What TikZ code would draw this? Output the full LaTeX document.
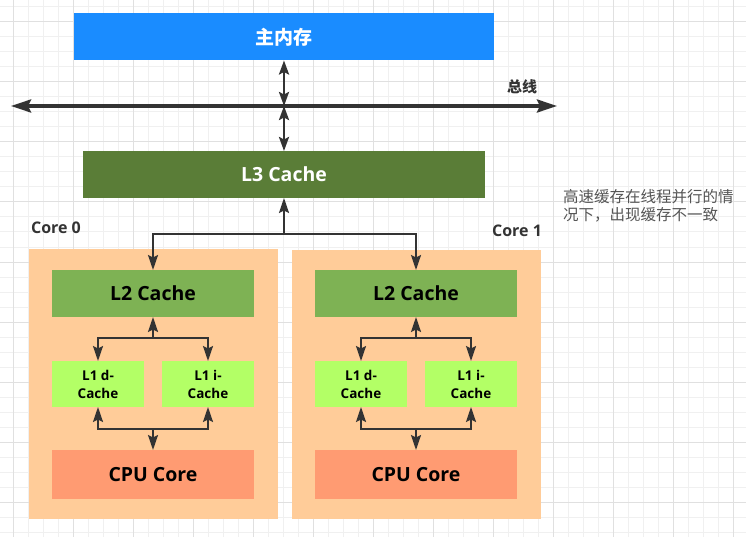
\documentclass[tikz,border=0pt]{standalone}
\usepackage{fontspec}
\setmainfont{Open Sans}
\newfontfamily\cjk{Noto Sans CJK SC}
\usetikzlibrary{arrows.meta,positioning}

\definecolor{memblue}{HTML}{1A8CFF}
\definecolor{lthree}{HTML}{5A7D37}
\definecolor{ltwo}{HTML}{7EB254}
\definecolor{lone}{HTML}{B3FF66}
\definecolor{cpucol}{HTML}{FF9B72}
\definecolor{corebg}{HTML}{FFCC99}
\definecolor{wire}{HTML}{333333}
\definecolor{notegray}{HTML}{555555}
\definecolor{gridfine}{HTML}{F0F0F0}
\definecolor{gridbold}{HTML}{E0E0E0}

\begin{document}
\begin{tikzpicture}[x=1pt,y=-1pt,
    blk/.style={inner sep=0pt,outer sep=0pt,font=\bfseries\fontsize{19.5}{22}\selectfont},
    l1blk/.style={blk,fill=lone,minimum width=92pt,minimum height=46pt,align=center,
        font=\bfseries\fontsize{13.5}{18}\selectfont},
    corelbl/.style={font=\bfseries\fontsize{16}{18}\selectfont,text=wire},
    link/.style={draw=wire,line width=2pt,-{Stealth[length=15pt,width=10pt,inset=2.5pt]}},
    twoway/.style={draw=wire,line width=2.5pt,
        {Stealth[length=14pt,width=10pt,inset=2.5pt]}-{Stealth[length=14pt,width=10pt,inset=2.5pt]}},
    busline/.style={draw=wire,line width=3.3pt,
        {Stealth[length=20pt,width=13pt,inset=3pt]}-{Stealth[length=20pt,width=13pt,inset=3pt]}}]
    \useasboundingbox (0,0) rectangle (746,537);
    \fill[white] (0,0) rectangle (746,537);
    % background grid
    \foreach \gx in {13,28,...,745} \draw[gridfine,line width=1pt] (\gx,0) -- (\gx,537);
    \foreach \gy in {7,22,...,536} \draw[gridfine,line width=1pt] (0,\gy) -- (746,\gy);
    \foreach \gx in {13,73,...,745} \draw[gridbold,line width=1pt] (\gx,0) -- (\gx,537);
    \foreach \gy in {22,82,...,536} \draw[gridbold,line width=1pt] (0,\gy) -- (746,\gy);

    % memory, bus, L3
    \node [blk,fill=memblue,text=white,minimum width=420pt,minimum height=47pt] (mem) at (284,37)
        {\cjk\bfseries\fontsize{19}{22}\selectfont 主内存};
    \node [blk,fill=lthree,text=white,minimum width=402pt,minimum height=47pt] (l3) at (284,174.5) {L3 Cache};
    \coordinate (busL) at (11,106);
    \coordinate (busR) at (557,106);
    \coordinate (busC) at (284,106);
    \node [font=\cjk\bfseries\fontsize{15}{17}\selectfont,text=wire] (buslbl) at (522,87) {总线};
    \draw [busline] (busL) -- (busR);
    \draw [twoway] (mem.south) -- (busC);
    \draw [twoway] (busC) -- (l3.north);

    % core 0
    \node [blk,fill=corebg,minimum width=249pt,minimum height=270pt] (core0) at (153.5,384) {};
    \node [corelbl] (core0lbl) at (56,228) {Core 0};
    \node [blk,fill=ltwo,minimum width=202pt,minimum height=47pt] (l2a) at (153,293.5) {L2 Cache};
    \node [l1blk] (l1da) at (98,384) {L1 d-\\Cache};
    \node [l1blk] (l1ia) at (208,384) {L1 i-\\Cache};
    \node [blk,fill=cpucol,minimum width=202pt,minimum height=49pt] (cpua) at (153,474.5) {CPU Core};

    % core 1
    \node [blk,fill=corebg,minimum width=249pt,minimum height=269pt] (core1) at (416.5,384.5) {};
    \node [corelbl] (core1lbl) at (517,231) {Core 1};
    \node [blk,fill=ltwo,minimum width=202pt,minimum height=47pt] (l2b) at (416,293.5) {L2 Cache};
    \node [l1blk] (l1db) at (361,384) {L1 d-\\Cache};
    \node [l1blk] (l1ib) at (471,384) {L1 i-\\Cache};
    \node [blk,fill=cpucol,minimum width=202pt,minimum height=49pt] (cpub) at (416,474.5) {CPU Core};

    % note
    \node [anchor=west,align=left,inner sep=0pt,text=notegray,
        font=\cjk\fontsize{15.5}{17.7}\selectfont] (note) at (563,205.5)
        {高速缓存在线程并行的情\\况下，出现缓存不一致};

    % L3 to the cores
    \coordinate (jl3) at (284,234);
    \draw [link] (jl3) -- (l3.south);
    \draw [link] (jl3) -| (l2a.north);
    \draw [link] (jl3) -| (l2b.north);

    % inside core 0
    \coordinate (upa) at (153,338);
    \coordinate (lowa) at (153,429);
    \draw [link] (upa) -- (l2a.south);
    \draw [link] (upa) -| (l1da.north);
    \draw [link] (upa) -| (l1ia.north);
    \draw [link] (lowa) -| (l1da.south);
    \draw [link] (lowa) -| (l1ia.south);
    \draw [link] (lowa) -- (cpua.north);

    % inside core 1
    \coordinate (upb) at (416,338);
    \coordinate (lowb) at (416,429);
    \draw [link] (upb) -- (l2b.south);
    \draw [link] (upb) -| (l1db.north);
    \draw [link] (upb) -| (l1ib.north);
    \draw [link] (lowb) -| (l1db.south);
    \draw [link] (lowb) -| (l1ib.south);
    \draw [link] (lowb) -- (cpub.north);
\end{tikzpicture}
\end{document}
